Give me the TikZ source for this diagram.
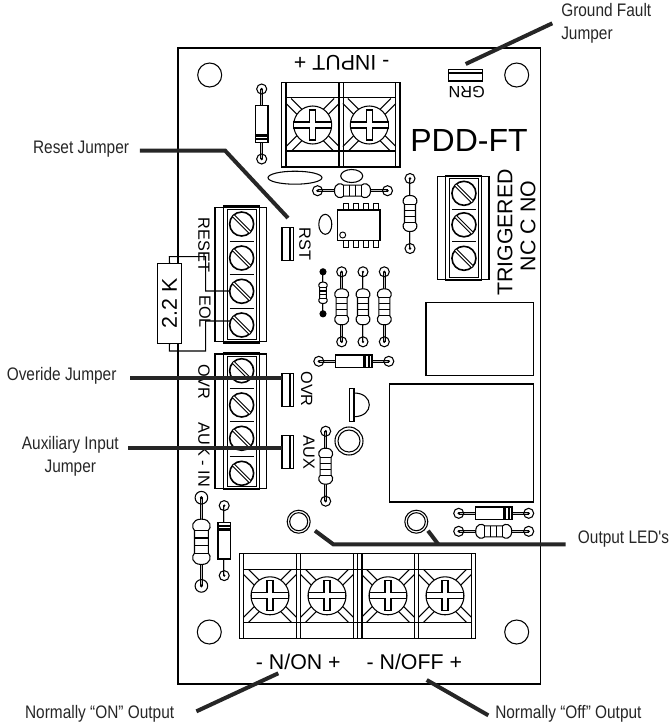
\documentclass[tikz,border=0pt]{standalone}
\usepackage{fontspec}
\setmainfont{Liberation Sans}
\newfontfamily\narrowfont[FakeStretch=0.85]{Liberation Sans}
\usepackage{tikz}

\tikzset{
  bigscrew/.pic={
    \foreach \sx in {-1,1} \foreach \sy in {-1,1} {
      \draw[thinline] (\sx*26.5,\sy*21.5) -- (\sx*8,\sy*3);
      \draw[thinline] (\sx*21.5,\sy*26.5) -- (\sx*3,\sy*8);
    }
    \draw[thinline,fill=white] (0,0) circle (19);
    \draw[thinline,fill=white] (-3,-15) -- (3,-15) -- (3,-3) -- (18.8,-3) -- (18.8,3) -- (3,3)
      -- (3,15) -- (-3,15) -- (-3,3) -- (-18.8,3) -- (-18.8,-3) -- (-3,-3) -- cycle;
  },
  slotscrew/.pic={
    \draw[line width=1.2pt,fill=white] (0,0) circle (12);
    \draw[line width=.8pt,double,double distance=1.1pt] (-8.2,-8.2) -- (8.2,8.2);
  },
  resistor/.pic={
    \draw[lead] (-35,0) -- (35,0);
    \draw[thinline,fill=white] (-9,-5.5) .. controls (-11,-8) and (-18,-8) .. (-18,0)
      .. controls (-18,8) and (-11,8) .. (-9,5.5) -- (9,5.5)
      .. controls (11,8) and (18,8) .. (18,0)
      .. controls (18,-8) and (11,-8) .. (9,-5.5) -- cycle;
    \foreach \bx in {-9,-3,3,9} \draw[thinline] (\bx,-5.5) -- (\bx,5.5);
    \foreach \bx in {-35,35} {
      \draw[thinline] (\bx,0) circle (5);
      \fill (\bx,0) circle (1.3);
    }
  },
  diode/.pic={
    \draw[lead] (-35,0) -- (35,0);
    \draw[line width=1.1pt,fill=white] (-18.3,-6.2) rectangle (18.3,6.2);
    \fill (9.5,-6.2) rectangle (12.5,6.2);
    \fill (14,-6.2) rectangle (16,6.2);
    \foreach \bx in {-35,35} {
      \draw[thinline] (\bx,0) circle (5);
      \fill (\bx,0) circle (1.3);
    }
  }
}

\begin{document}
\begin{tikzpicture}[x=.75pt,y=-.75pt,
  thinline/.style={line width=.8pt},
  lead/.style={line width=.7pt,double=black!25,double distance=.5pt},
  leader/.style={line width=3pt,color=black!85},
  callout/.style={font=\narrowfont\fontsize{13.6}{15.5}\selectfont,color=black!85,inner sep=0pt},
  bigtext/.style={font=\fontsize{16}{19}\selectfont,inner sep=0pt},
  smalltext/.style={font=\fontsize{12.2}{14}\selectfont,inner sep=0pt},
  jumper/.style={line width=1pt,fill=white}
  ]
  \useasboundingbox (0,0) rectangle (672,726);

  % board
  \draw[line width=.9pt] (178,48) rectangle (540.7,684);
  \foreach \x/\y in {209.7/75,516.7/75,209.3/632,516.7/632}
    \draw[thinline] (\x,\y) circle (12);

  % input terminals
  \draw[thinline] (281.7,82.7) rectangle (400,167);
  \draw[thinline] (286,97.3) -- (395.7,97.3) (286,151) -- (395.7,151);
  \foreach \x in {286,339,343.3,395.7} \draw[thinline] (\x,82.7) -- (\x,167);
  \foreach \x in {312.7,369.3} \pic at (\x,125) {bigscrew};

  % output terminals
  \draw[thinline] (239.3,553.7) rectangle (475.7,638.3);
  \draw[thinline] (243.3,569.3) -- (471.7,569.3) (243.3,622.3) -- (471.7,622.3);
  \foreach \x in {243.3,296.7,300.7,353.3,357.3,362,414.7,418.7,471.7}
    \draw[thinline] (\x,553.7) -- (\x,638.3);
  \foreach \x in {270,327,388,445} \pic at (\x,595.8) {bigscrew};

  % side terminals
  \foreach \xa/\xb/\ya/\yb/\screws in {
      215/266.7/207.3/341.7/{224,258,291.3,325},
      215/266.7/354/488.3/{370.7,405,438.3,473.3},
      437.3/489/176.7/279.3/{193.3,224.8,258.3}} {
    \draw[thinline] (\xa,\ya) rectangle (\xb,\yb);
    \draw[line width=1.1pt] (\xa+8.3,\ya-1.3) rectangle (\xb-7.4,\yb+1.3);
    \draw[line width=.5pt] (\xa+12.3,\ya+2) rectangle (\xb-10.7,\yb-2);
    \foreach \y in \screws \pic at ({(\xa+\xb)/2+.8},\y) {slotscrew};
  }
  \foreach \x/\y in {241.7/241,241.7/274.7,241.7/308,241.7/387.8,241.7/421.7,241.7/455.8,464/209,464/241.5}
    \draw[line width=.4pt] (\x-12,\y) -- (\x+12,\y);

  % jumpers
  \draw[jumper] (448.3,69.3) rectangle (482.3,81);
  \draw[thinline] (448.3,73) -- (482.3,73);
  \foreach \y in {227.3,373.7,435.3} {
    \draw[jumper] (282,\y) rectangle (293.5,\y+33);
    \draw[thinline] (290,\y) -- (290,\y+33);
  }

  % parts
  \pic[rotate=-90] at (261.7,124) {diode};
  \pic at (353.8,361.3) {diode};
  \pic[rotate=90] at (224.2,540.6) {diode};
  \pic at (493.7,513.3) {diode};
  \pic at (352.5,190.7) {resistor};
  \pic[rotate=90] at (410,213.5) {resistor};
  \pic[rotate=90] at (341.7,306.8) {resistor};
  \pic[rotate=90] at (363,306.8) {resistor};
  \pic[rotate=90] at (384.3,306.8) {resistor};
  \pic[rotate=90] at (325.7,466.2) {resistor};
  \pic[rotate=90,scale=1.26] at (201.4,541.8) {resistor};
  \pic at (493.7,531.3) {resistor};
  \pic[rotate=90,scale=.6] at (323,292.8) {resistor};
  \fill (323,271.7) circle (3) (323,314) circle (3);

  % chip
  \foreach \x in {343.3,353.3,363.3,373.3}
    \draw[line width=.7pt] (\x,203.3) rectangle (\x+5,247);
  \draw[line width=1pt,fill=white] (337.3,210) rectangle (380,240.7);
  \draw[line width=.7pt] (342.7,235) circle (3);
  \draw[thinline] (295,177.7) ellipse (27 and 6.5);
  \draw[thinline] (351.7,176) ellipse (11 and 6.5);
  \draw[thinline] (325.3,224.3) ellipse (6.5 and 10);

  % led parts and relays
  \draw[thinline] (354,393) .. controls (374.4,393) and (374.4,416.7) .. (354,416.7);
  \draw[thinline,fill=white] (349.3,388.3) rectangle (354,421.7);
  \draw[thinline] (349,441) circle (14) (349,441) circle (11);
  \draw[thinline] (298.7,521.7) circle (11.5) (298.7,521.7) circle (9);
  \draw[thinline] (416.3,521.7) circle (11.5) (416.3,521.7) circle (9);
  \draw[line width=.9pt] (426,302.3) rectangle (533.3,375.3);
  \draw[line width=.9pt] (389.3,384) rectangle (533.3,502);

  % board texts
  \node[bigtext,rotate=180] (txtinput) at (341.7,62.7) {- INPUT +};
  \node[font=\fontsize{24}{28}\selectfont,inner sep=0pt] (txtname) at (469,140.7) {PDD-FT};
  \node[bigtext,rotate=90] (txttrig) at (505,232.5) {TRIGGERED};
  \node[bigtext,rotate=90] (txtcont) at (528,226) {NC C NO};
  \node[bigtext] (txton) at (298.3,661.7) {- N/ON +};
  \node[bigtext] (txtoff) at (414.3,661.7) {- N/OFF +};
  \node[smalltext,rotate=180] (txtgrn) at (466.7,91.7) {GRN};
  \node[smalltext,rotate=-90] (txtrst) at (305,244) {RST};
  \node[smalltext,rotate=-90] (txtreset) at (204,245) {RESET};
  \node[smalltext,rotate=-90] (txteol) at (205,311.7) {EOL};
  \node[smalltext,rotate=-90] (txtovrl) at (204,381.7) {OVR};
  \node[smalltext,rotate=-90] (txtaux) at (204,455) {AUK - IN};
  \node[smalltext,rotate=-90] (txtovrr) at (306.7,389) {OVR};
  \node[smalltext,rotate=-90] (txtauxr) at (309,452.7) {AUX};

  % end of line resistor
  \node[draw,fill=white,line width=.8pt,bigtext,rotate=90,minimum width=60pt,minimum height=18.3pt] (rk) at (169.5,303.3) {2.2 K};
  \coordinate (wiretop) at (230,291);
  \coordinate (wirebot) at (230,321);
  \coordinate (wirex) at (205.7,291);
  \draw[thinline] (rk.east) -- (169.3,256.7) -| (wirex) -- (wiretop);
  \draw[thinline] (rk.west) -- (169.3,351) -| (205.7,321) -- (wirebot);

  % callouts
  \node[callout,anchor=west,align=left] (lblground) at (561,23.5) {Ground Fault\\[2pt]Jumper};
  \node[callout,anchor=east] (lblreset) at (129.3,149.5) {Reset Jumper};
  \node[callout,anchor=east] (lblover) at (116.7,375.5) {Overide Jumper};
  \node[callout,anchor=east,align=center] (lblaux) at (119,456) {Auxiliary Input\\[2pt]Jumper};
  \node[callout,anchor=west] (lblled) at (577.7,539.5) {Output LED's};
  \node[callout,anchor=east] (lblon) at (174.4,714) {Normally “ON” Output};
  \node[callout,anchor=west] (lbloff) at (495,714) {Normally “Off” Output};

  \coordinate (tipground) at (465.7,64);
  \coordinate (tipreset) at (288,218);
  \coordinate (bendreset) at (225,150.5);
  \coordinate (tipover) at (282,377.7);
  \coordinate (tipaux) at (282,448);
  \coordinate (tipleda) at (315,530.7);
  \coordinate (bendleda) at (333.3,544.3);
  \coordinate (tipledb) at (428,530.7);
  \coordinate (bendledb) at (438.3,544.3);
  \coordinate (tipon) at (278.3,673.3);
  \coordinate (tipoff) at (426.7,680);

  \draw[leader] (lblground.west) ++(-8.7,-.2) -- (tipground);
  \draw[leader] ([xshift=8pt]lblreset.east |- bendreset) -- (bendreset) -- (tipreset);
  \draw[leader] ([xshift=10pt]lblover.east |- tipover) -- (tipover);
  \draw[leader] ([xshift=7pt]lblaux.east |- tipaux) -- (tipaux);
  \draw[leader] (tipleda) -- (bendleda) -- ([xshift=-9pt]lblled.west |- bendleda);
  \draw[leader] (tipledb) -- (bendledb);
  \draw[leader] ([xshift=16.5pt,yshift=2pt]lblon.east) -- (tipon);
  \draw[leader] ([xshift=-5pt,yshift=-1pt]lbloff.west) -- (tipoff);
\end{tikzpicture}
\end{document}
